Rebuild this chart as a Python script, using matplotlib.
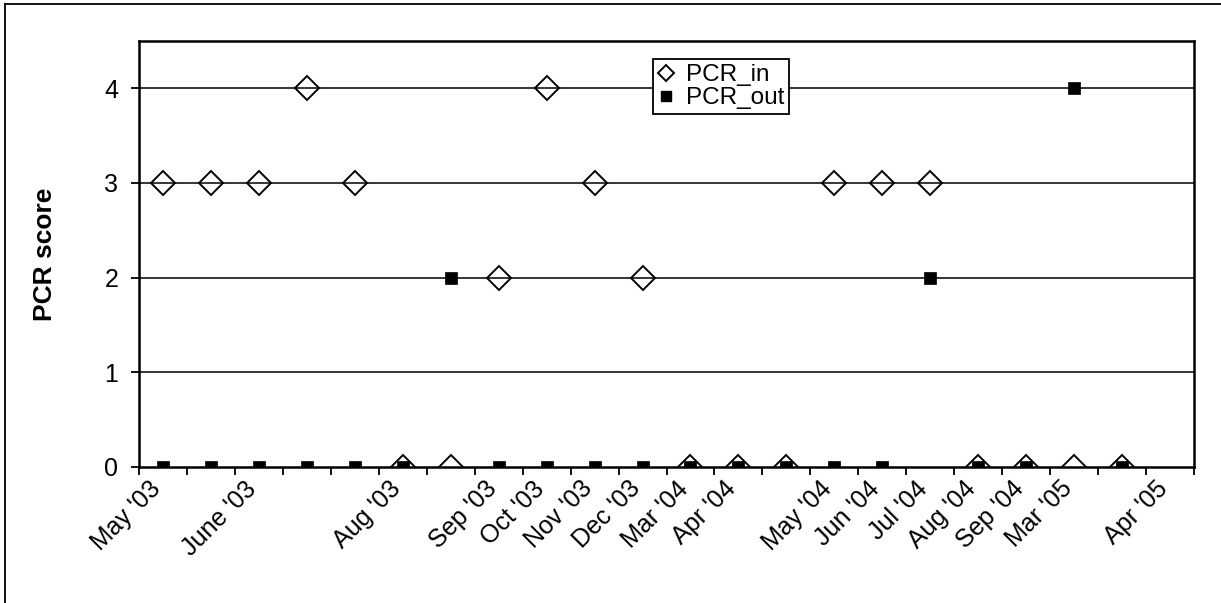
import matplotlib
matplotlib.use('Agg')
import matplotlib.pyplot as plt
import matplotlib.transforms as mtransforms
from matplotlib.lines import Line2D
import numpy as np

# ── Data (22 sampling slots, some without a date label) ──────────────────────
dates = ["May '03", "", "June '03", "", "", "Aug '03", "", "Sep '03",
         "Oct '03", "Nov '03", "Dec '03", "Mar '04", "Apr '04", "",
         "May '04", "Jun '04", "Jul '04", "Aug '04", "Sep '04", "Mar '05",
         "", "Apr '05"]
pcr_in  = [3, 3, 3, 4, 3, 0, 0, 2, 4, 3, 2, 0, 0, 0, 3, 3, 3, 0, 0, 0, 0, np.nan]
pcr_out = [0, 0, 0, 0, 0, 0, 2, 0, 0, 0, 0, 0, 0, 0, 0, 0, 2, 0, 0, 4, 0, np.nan]
yticks = [0, 1, 2, 3, 4]

plt.rcParams['font.family'] = ['Liberation Sans', 'DejaVu Sans']

W, H = 1221, 603
fig = plt.figure(figsize=(W / 100, H / 100), dpi=100, facecolor='white')
ax = fig.add_axes([139 / W, 1 - 467 / H, (1194 - 139) / W, (467 - 41) / H])

x = np.arange(len(dates))

# gridlines
for y in yticks[1:]:
    ax.axhline(y, color='black', lw=1.1, zorder=1)

ax.plot(x, pcr_in, ls='none', marker='D', ms=12, mfc='none', mec='black',
        mew=1.4, zorder=3, label='PCR_in')
ax.plot(x, pcr_out, ls='none', marker='s', ms=8.5, mfc='black', mec='black',
        mew=0.5, zorder=4, label='PCR_out')

ax.set_xlim(-0.5, len(dates) - 0.5)
ax.set_ylim(0, 4.5)

# ticks between categories, labels at centres
ax.set_xticks(np.arange(len(dates) + 1) - 0.5)
ax.set_xticklabels([])
ax.set_xticks(x, dates, minor=True)
ax.tick_params(axis='x', which='major', direction='out', length=6, width=1.3)
ax.tick_params(axis='x', which='minor', length=0, pad=13, labelsize=18)
shift = mtransforms.ScaledTranslation(-6 / 100, 0, fig.dpi_scale_trans)
for lbl in ax.get_xticklabels(minor=True):
    lbl.set_rotation(45)
    lbl.set_ha('right')
    lbl.set_va('center')
    lbl.set_rotation_mode('anchor')
    lbl.set_transform(lbl.get_transform() + shift)

ax.set_yticks(yticks)
ax.tick_params(axis='y', direction='out', length=6, width=1.3, pad=9, labelsize=18)
ax.set_ylabel('PCR score', fontsize=19, fontweight='bold', labelpad=34)

for s in ax.spines.values():
    s.set_linewidth(1.8)
    s.set_color('black')

handles = [Line2D([], [], ls='none', marker='D', ms=8.5, mfc='none', mec='black', mew=1.4),
           Line2D([], [], ls='none', marker='s', ms=7, mfc='black', mec='black')]
leg = ax.legend(handles, ['PCR_in', 'PCR_out'], loc='upper left',
                bbox_to_anchor=(0.487, 0.957), borderaxespad=0, fontsize=17.5,
                frameon=True, fancybox=False, framealpha=1, edgecolor='black',
                handlelength=0.7, handletextpad=0.45, borderpad=0.2,
                labelspacing=0.05)
leg.get_frame().set_linewidth(1.3)
leg.set_zorder(5)

# outer chart border (runs off the right/bottom of the crop)
fig.add_artist(Line2D([5 / W, 1], [1 - 4 / H, 1 - 4 / H], color='black', lw=1.3))
fig.add_artist(Line2D([5 / W, 5 / W], [0, 1 - 4 / H], color='black', lw=1.3))

plt.savefig('out.png', dpi=100, facecolor='white')
